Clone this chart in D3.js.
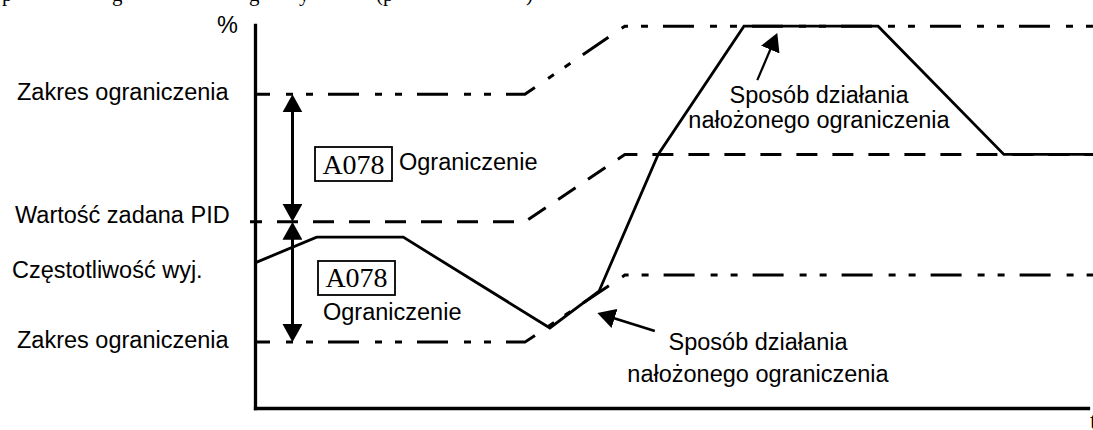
<!DOCTYPE html>
<html>
<head>
<meta charset="utf-8">
<script src="https://cdn.jsdelivr.net/npm/d3@7"></script>
<style>
  body { margin: 0; background: #fff; }
  svg { display: block; }
  .lbl { font-family: "Liberation Sans", Arial, sans-serif; font-size: 23.5px; fill: #000; }
  .serif { font-family: "Liberation Serif", "Times New Roman", serif; fill: #000; }
</style>
</head>
<body>
<div class="chart"></div>
<script>
// time (0-100) on x, output in % (0-100) on y
var bandT = [0, 32.4, 44.4, 101];
var upperLimit = [81.9, 81.9, 99.7, 99.7];
var lowerLimit = [17.2, 17.2, 34.7, 34.7];
var setpointT = [-0.6, 32.4, 44.4, 101];
var setpoint = [48.6, 48.6, 66.2, 66.2];
var outputT = [0, 7.4, 17.8, 35.4, 41.3, 48.4, 58.7, 74.8, 89.9, 101];
var output = [37.9, 44.6, 44.6, 20.9, 30.5, 66.2, 99.7, 99.7, 66.2, 66.2];

var leftLabels = ["Zakres ograniczenia", "Wartość zadana PID", "Częstotliwość wyj.", "Zakres ograniczenia"];
var paramCode = "A078";
var paramName = "Ograniczenie";
var noteLines = ["Sposób działania", "nałożonego ograniczenia"];
var yUnit = "%";
var xUnit = "t";

createChart();

function createChart() {
    var svgWidth = 1093;
    var svgHeight = 430;

    var svg = d3.select(".chart")
        .append("svg")
        .attr("width", svgWidth).attr("height", svgHeight);

    var x = d3.scaleLinear().domain([0, 100]).range([255, 1088]);
    var y = d3.scaleLinear().domain([0, 100]).range([408, 25]);

    var defs = svg.append("defs");
    defs.append("marker")
        .attr("id", "head")
        .attr("viewBox", "0 0 18 20")
        .attr("refX", 8).attr("refY", 10)
        .attr("markerWidth", 18).attr("markerHeight", 20)
        .attr("markerUnits", "userSpaceOnUse")
        .attr("orient", "auto-start-reverse")
        .append("path")
        .attr("d", "M0,0L18,10L0,20Z")
        .attr("fill", "#000");

    // clipped caption line above the figure
    var headerGlyphs = [["p", 2], ["g", 112], ["g", 249], ["y", 299], ["(p", 376], [")", 526]];
    svg.append("text")
        .attr("class", "serif")
        .attr("font-size", 21)
        .selectAll("tspan")
        .data(headerGlyphs)
        .enter()
        .append("tspan")
        .attr("x", d => d[1])
        .attr("y", 0.5)
        .text(d => d[0]);

    var zip = (ts, vs) => ts.map((t, i) => ({t: t, v: vs[i]}));
    var line = d3.line().x(d => x(d.t)).y(d => y(d.v));

    // axes
    var axisStyle = function(g) {
        g.select(".domain").attr("stroke", "#000").attr("stroke-width", 3.3).attr("stroke-linecap", "square");
    };
    svg.append("g")
        .attr("transform", `translate(${x(0)},0)`)
        .call(d3.axisLeft(y).ticks(0).tickSizeOuter(0))
        .call(axisStyle);
    svg.append("g")
        .attr("transform", `translate(0,${y(0)})`)
        .call(d3.axisBottom(x).ticks(0).tickSizeOuter(0))
        .call(axisStyle);

    // limit band and setpoint
    [upperLimit, lowerLimit].forEach(function(vals) {
        svg.append("path")
            .datum(zip(bandT, vals))
            .attr("d", line)
            .attr("fill", "none")
            .attr("stroke", "#000")
            .attr("stroke-width", 3)
            .attr("stroke-dasharray", "31,16,7,13,7,15")
            .attr("stroke-dashoffset", 16);
    });

    svg.append("path")
        .datum(zip(setpointT, setpoint))
        .attr("d", line)
        .attr("fill", "none")
        .attr("stroke", "#000")
        .attr("stroke-width", 3)
        .attr("stroke-dasharray", "21,15")
        .attr("stroke-dashoffset", 9);

    // output frequency
    svg.append("path")
        .datum(zip(outputT, output))
        .attr("d", line)
        .attr("fill", "none")
        .attr("stroke", "#000")
        .attr("stroke-width", 2.8)
        .attr("stroke-linejoin", "miter");

    // arrows
    function arrow(x1, y1, x2, y2, both, w) {
        var dx = x2 - x1, dy = y2 - y1, len = Math.sqrt(dx * dx + dy * dy);
        var ux = dx / len, uy = dy / len, trim = 10;
        var sx = both ? x1 + ux * trim : x1, sy = both ? y1 + uy * trim : y1;
        svg.append("line")
            .attr("x1", sx).attr("y1", sy)
            .attr("x2", x2 - ux * trim).attr("y2", y2 - uy * trim)
            .attr("stroke", "#000")
            .attr("stroke-width", w)
            .attr("marker-end", "url(#head)")
            .attr("marker-start", both ? "url(#head)" : null);
    }
    var arrowT = 4.5;
    arrow(x(arrowT), y(upperLimit[0]), x(arrowT), y(setpoint[0]), true, 3);
    arrow(x(arrowT), y(setpoint[0]), x(arrowT), y(lowerLimit[0]), true, 3);
    arrow(x(60.3), y(85.6), x(62.7), y(97.9), false, 2.2);
    arrow(x(48.0), y(20.1), x(41.1), y(24.8), false, 2.6);

    // left labels
    var leftPos = [[17, 100], [15, 223], [12, 278], [17, 348]];
    svg.selectAll(".left")
        .data(leftLabels)
        .enter()
        .append("text")
        .attr("class", "lbl left")
        .attr("x", (d, i) => leftPos[i][0])
        .attr("y", (d, i) => leftPos[i][1])
        .text(d => d);

    svg.append("text")
        .attr("class", "lbl")
        .attr("font-size", 25)
        .attr("text-anchor", "end")
        .attr("x", 238).attr("y", 33)
        .text(yUnit);

    svg.append("text")
        .attr("class", "serif")
        .attr("font-size", 26)
        .attr("x", 1090).attr("y", 429)
        .text(xUnit);

    // parameter boxes
    var boxes = [{x: 315, y: 147, base: 174}, {x: 318, y: 261, base: 287}];
    boxes.forEach(function(b) {
        svg.append("rect")
            .attr("x", b.x).attr("y", b.y)
            .attr("width", 77).attr("height", 34)
            .attr("fill", "none")
            .attr("stroke", "#000")
            .attr("stroke-width", 1.8);
        svg.append("text")
            .attr("class", "serif")
            .attr("font-size", 28)
            .attr("text-anchor", "middle")
            .attr("x", b.x + 38.5).attr("y", b.base)
            .text(paramCode);
    });
    svg.append("text").attr("class", "lbl").attr("x", 399).attr("y", 170).text(paramName);
    svg.append("text").attr("class", "lbl").attr("x", 323).attr("y", 320).text(paramName);

    // notes
    var notes = [{cx: 819, y: [103, 128]}, {cx: 758, y: [350, 382]}];
    notes.forEach(function(n) {
        svg.append("text")
            .attr("class", "lbl")
            .attr("text-anchor", "middle")
            .selectAll("tspan")
            .data(noteLines)
            .enter()
            .append("tspan")
            .attr("x", n.cx)
            .attr("y", (d, i) => n.y[i])
            .text(d => d);
    });
}
</script>
</body>
</html>
